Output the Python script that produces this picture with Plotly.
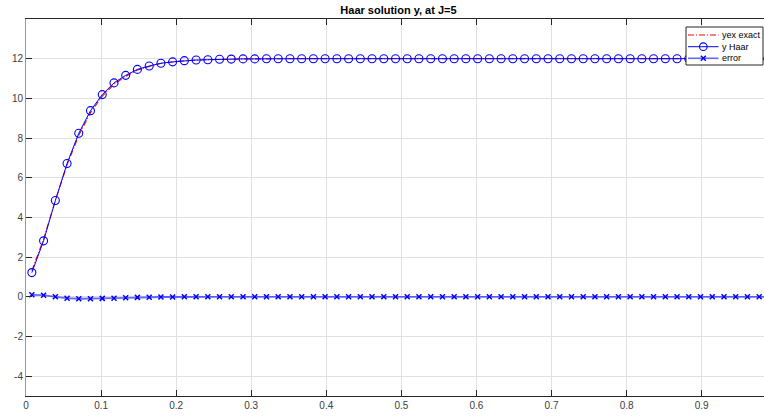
import plotly.graph_objects as go

x_points = [0.0078, 0.0234, 0.0391, 0.0547, 0.0703, 0.0859, 0.1016, 0.1172,
            0.1328, 0.1484, 0.1641, 0.1797, 0.1953, 0.2109, 0.2266, 0.2422,
            0.2578, 0.2734, 0.2891, 0.3047, 0.3203, 0.3359, 0.3516, 0.3672,
            0.3828, 0.3984, 0.4141, 0.4297, 0.4453, 0.4609, 0.4766, 0.4922,
            0.5078, 0.5234, 0.5391, 0.5547, 0.5703, 0.5859, 0.6016, 0.6172,
            0.6328, 0.6484, 0.6641, 0.6797, 0.6953, 0.7109, 0.7266, 0.7422,
            0.7578, 0.7734, 0.7891, 0.8047, 0.8203, 0.8359, 0.8516, 0.8672,
            0.8828, 0.8984, 0.9141, 0.9297, 0.9453, 0.9609, 0.9766, 0.9922]

y_haar = [1.22, 2.82, 4.85, 6.72, 8.24, 9.38, 10.19, 10.78,
          11.16, 11.46, 11.63, 11.77, 11.84, 11.90, 11.93, 11.95,
          11.97, 11.98, 11.99, 11.99, 12.0, 12.0, 12.0, 12.0,
          12.0, 12.0, 12.0, 12.0, 12.0, 12.0, 12.0, 12.0,
          12.0, 12.0, 12.0, 12.0, 12.0, 12.0, 12.0, 12.0,
          12.0, 12.0, 12.0, 12.0, 12.0, 12.0, 12.0, 12.0,
          12.0, 12.0, 12.0, 12.0, 12.0, 12.0, 12.0, 12.0,
          12.0, 12.0, 12.0, 12.0, 12.0, 12.0, 12.0, 12.0]

y_exact = [1.32, 2.90, 4.85, 6.65, 8.14, 9.28, 10.11, 10.71,
           11.11, 11.43, 11.61, 11.76, 11.83, 11.90, 11.93, 11.95,
           11.97, 11.98, 11.99, 11.99, 12.0, 12.0, 12.0, 12.0,
           12.0, 12.0, 12.0, 12.0, 12.0, 12.0, 12.0, 12.0,
           12.0, 12.0, 12.0, 12.0, 12.0, 12.0, 12.0, 12.0,
           12.0, 12.0, 12.0, 12.0, 12.0, 12.0, 12.0, 12.0,
           12.0, 12.0, 12.0, 12.0, 12.0, 12.0, 12.0, 12.0,
           12.0, 12.0, 12.0, 12.0, 12.0, 12.0, 12.0, 12.0]

y_error = [0.10, 0.08, 0.0, -0.07, -0.10, -0.10, -0.08, -0.07,
           -0.05, -0.03, -0.02, -0.01, -0.01, 0.0, 0.0, 0.0,
           0.0, 0.0, 0.0, 0.0, 0.0, 0.0, 0.0, 0.0,
           0.0, 0.0, 0.0, 0.0, 0.0, 0.0, 0.0, 0.0,
           0.0, 0.0, 0.0, 0.0, 0.0, 0.0, 0.0, 0.0,
           0.0, 0.0, 0.0, 0.0, 0.0, 0.0, 0.0, 0.0,
           0.0, 0.0, 0.0, 0.0, 0.0, 0.0, 0.0, 0.0,
           0.0, 0.0, 0.0, 0.0, 0.0, 0.0, 0.0, 0.0]

series_names = ["yex exact", "y Haar", "error"]

x_ticks = [0, 0.1, 0.2, 0.3, 0.4, 0.5, 0.6, 0.7, 0.8, 0.9]
x_tick_text = ["0", "0.1", "0.2", "0.3", "0.4", "0.5", "0.6", "0.7", "0.8", "0.9"]
y_ticks = [-4, -2, 0, 2, 4, 6, 8, 10, 12]
y_tick_text = ["-4", "-2", "0", "2", "4", "6", "8", "10", "12"]

FONT = "Liberation Sans, Arial, sans-serif"
AXC = "#262626"
RED = "#ff0000"
BLUE = "#0000ff"
RED_DASH = "6px,2px,1px,2px"

fig = go.Figure()
fig.add_trace(go.Scatter(
    x=x_points, y=y_exact, mode="lines", name=series_names[0], showlegend=False,
    line=dict(color=RED, width=1.1, dash=RED_DASH),
))
fig.add_trace(go.Scatter(
    x=x_points, y=y_haar, mode="lines+markers", name=series_names[1], showlegend=False,
    line=dict(color=BLUE, width=1),
    marker=dict(symbol="circle-open", size=8, color=BLUE, line=dict(width=1.1)),
))
fig.add_trace(go.Scatter(
    x=x_points, y=y_error, mode="lines+markers", name=series_names[2], showlegend=False,
    line=dict(color="rgba(0,0,255,0.6)", width=1.8),
    marker=dict(symbol="x-thin-open", size=5, color=BLUE, line=dict(width=1.5, color=BLUE)),
))

# ---- compact MATLAB-style legend (box, samples and labels) ----
L, T, W, H = 26, 19, 738, 377  # plot area in pixels


def px(v):
    return (v - L) / W


def py(v):
    return (T + H - v) / H


shapes = []
annotations = []
shapes.append(dict(type="rect", xref="paper", yref="paper",
                   x0=px(686), x1=px(763), y0=py(65), y1=py(27),
                   fillcolor="white", line=dict(color=AXC, width=1), layer="above"))
row_y = [35, 46.7, 58.3]
row_style = [(RED, RED_DASH, None), (BLUE, "solid", "circle"), ("rgba(0,0,255,0.6)", "solid", "x")]
for name, ry, (col, dash, mk) in zip(series_names, row_y, row_style):
    shapes.append(dict(type="line", xref="paper", yref="paper",
                       x0=px(688), x1=px(718.5), y0=py(ry), y1=py(ry),
                       line=dict(color=col, width=1 if mk != "x" else 1.6, dash=dash),
                       layer="above"))
    if mk == "circle":
        shapes.append(dict(type="circle", xref="paper", yref="paper",
                           xsizemode="pixel", ysizemode="pixel",
                           xanchor=px(703.3), yanchor=py(ry),
                           x0=-3.8, x1=3.8, y0=-3.8, y1=3.8,
                           line=dict(color=BLUE, width=1.1), layer="above"))
    elif mk == "x":
        for a, b in [(-2.5, 2.5), (2.5, -2.5)]:
            shapes.append(dict(type="line", xref="paper", yref="paper",
                               xsizemode="pixel", ysizemode="pixel",
                               xanchor=px(703.3), yanchor=py(ry),
                               x0=-2.5, x1=2.5, y0=a, y1=b,
                               line=dict(color=BLUE, width=1.4), layer="above"))
    annotations.append(dict(text=name, xref="paper", yref="paper",
                            x=px(720.5), y=py(ry), xanchor="left", yanchor="middle",
                            showarrow=False, borderpad=0,
                            font=dict(family=FONT, size=9, color="#000000")))

fig.update_layout(
    width=764, height=416,
    margin=dict(l=L, r=0, t=T, b=20),
    paper_bgcolor="white", plot_bgcolor="white",
    font=dict(family=FONT, size=10, color=AXC),
    title=dict(text="<b>Haar solution y, at J=5</b>", x=0.5047, xref="paper",
               xanchor="center", y=0.976, yref="container", yanchor="middle",
               font=dict(family=FONT, size=11, color="#000000")),
    showlegend=False,
    shapes=shapes,
    annotations=annotations,
)
fig.update_xaxes(
    range=[0, 0.983], tickvals=x_ticks, ticktext=x_tick_text,
    showgrid=True, gridcolor="#e0e0e0", gridwidth=1, zeroline=False,
    showline=True, linecolor=AXC, linewidth=1, mirror="ticks",
    ticks="inside", ticklen=6, tickcolor=AXC, tickwidth=1,
    tickfont=dict(family=FONT, size=10, color="#404040"),
)
fig.update_yaxes(
    range=[-5, 14], tickvals=y_ticks, ticktext=y_tick_text,
    showgrid=True, gridcolor="#e0e0e0", gridwidth=1, zeroline=False,
    showline=True, linecolor="#9a9a9a", linewidth=1,
    ticks="inside", ticklen=6, tickcolor=AXC, tickwidth=1,
    tickfont=dict(family=FONT, size=10, color="#404040"),
)

fig.write_html("out.html")
